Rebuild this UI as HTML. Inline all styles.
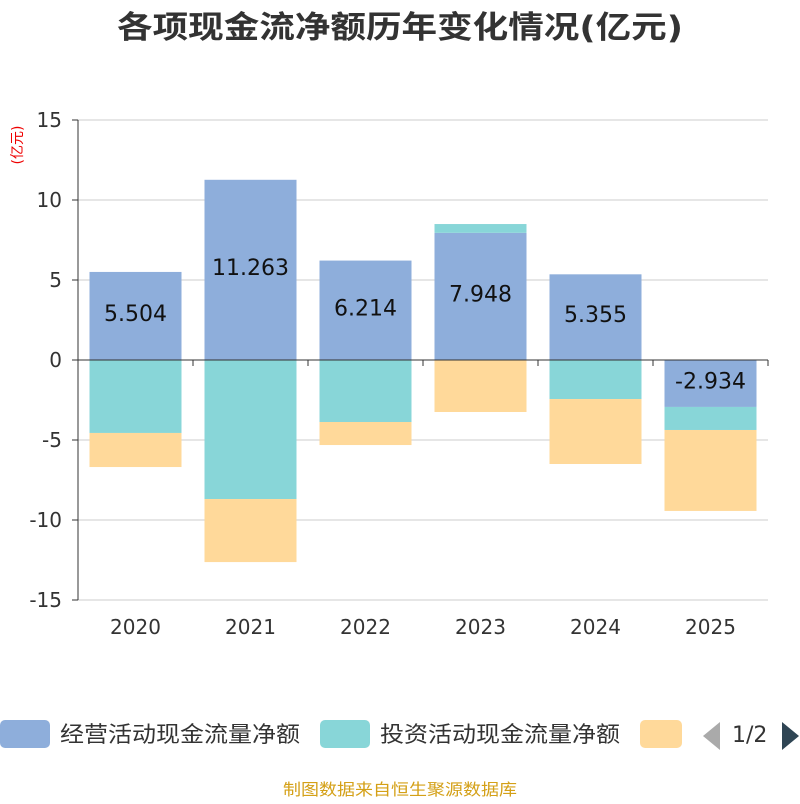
<!DOCTYPE html>
<html><head><meta charset="utf-8"><style>
body{margin:0;background:#fff;width:800px;height:800px;overflow:hidden;font-family:"DejaVu Sans","Noto Sans CJK SC",sans-serif}
</style></head><body>
<svg id="c" width="800" height="800" xmlns="http://www.w3.org/2000/svg" font-family="DejaVu Sans, Noto Sans CJK SC, sans-serif">
<text x="117" y="38" textLength="566" lengthAdjust="spacingAndGlyphs" font-size="31" font-weight="bold" fill="#333">各项现金流净额历年变化情况(亿元)</text>
<text transform="translate(22,145) rotate(-90)" text-anchor="middle" font-size="14" fill="#e00">(亿元)</text>
<g id="grid"></g><g id="bars"></g><g id="axes"></g>
<g font-size="22" fill="#333">
<rect x="0" y="720" width="50" height="28" rx="5" fill="#8eaedb"/>
<text x="60" y="742" textLength="240" lengthAdjust="spacingAndGlyphs">经营活动现金流量净额</text>
<rect x="320" y="720" width="50" height="28" rx="5" fill="#88d6d8"/>
<text x="380" y="742" textLength="240" lengthAdjust="spacingAndGlyphs">投资活动现金流量净额</text>
<rect x="640" y="720" width="42" height="28" rx="5" fill="#ffd99a"/>
<polygon points="720,722 720,750 703,736" fill="#aaa"/>
<text x="732" y="742">1/2</text>
<polygon points="782,722 782,750 799,736" fill="#2f4554"/>
</g>
<text x="283" y="795" textLength="234" lengthAdjust="spacingAndGlyphs" font-size="16" fill="#d4a017">制图数据来自恒生聚源数据库</text>
</svg>
<script>
const categories=["2020","2021","2022","2023","2024","2025"];
const operating=[5.504,11.263,6.214,7.948,5.355,-2.934];
const investing=[-4.56,-8.69,-3.875,0.55,-2.44,-1.44];
const financing=[-2.13,-3.94,-1.44,-3.25,-4.06,-5.06];
const yTicks=[15,10,5,0,-5,-10,-15];
const colors=["#8eaedb","#88d6d8","#ffd99a"];
const NS="http://www.w3.org/2000/svg";
const x0=78,x1=768,yTop=120,yBot=600;
const y=v=>yTop+(15-v)/30*(yBot-yTop);
const bw=(x1-x0)/categories.length;
const xc=i=>x0+bw*(i+0.5);
function mk(t,a,p){const e=document.createElementNS(NS,t);for(const k in a)e.setAttribute(k,a[k]);p.appendChild(e);return e;}
const grid=document.getElementById('grid'),bars=document.getElementById('bars'),axes=document.getElementById('axes');
yTicks.forEach(t=>{
 const l=mk('line',{x1:x0,x2:x1,y1:y(t),y2:y(t),stroke:'#ccc','stroke-width':1},grid);
 
 
 const tx=mk('text',{x:x0-16,y:y(t)+7,'text-anchor':'end','font-size':20,fill:'#333'},axes);
 tx.textContent=t;
 
 
 const tk=mk('line',{x1:x0-6,x2:x0,y1:y(t),y2:y(t),stroke:'#333'},axes);
 
 
});
const ya=mk('line',{x1:x0,x2:x0,y1:yTop,y2:yBot,stroke:'#333'},axes);


const xa=mk('line',{x1:x0,x2:x1,y1:y(0),y2:y(0),stroke:'#333'},axes);


const series=[operating,investing,financing];
const names=['operating','investing','financing'];
categories.forEach((c,i)=>{
 let pos=0,neg=0;
 const bx=xc(i)-46;
 series.forEach((s,k)=>{
  const v=s[i];let a,b;
  if(v>=0){a=pos;b=pos+v;pos=b;}else{a=neg;b=neg+v;neg=b;}
  const r=mk('rect',{x:bx,width:92,y:Math.min(y(a),y(b)),height:Math.abs(y(a)-y(b)),fill:colors[k]},bars);
  
  
 });
 const v=operating[i];
 const lt=mk('text',{x:xc(i),y:(y(0)+y(v))/2+5,'text-anchor':'middle','font-size':22,fill:'#111'},bars);
 lt.textContent=v.toFixed(3);
 
 
 const xt=mk('text',{x:xc(i),y:634,'text-anchor':'middle','font-size':20,fill:'#333'},axes);
 xt.textContent=c;
 
 
 const tk=mk('line',{x1:x0+bw*(i+1),x2:x0+bw*(i+1),y1:y(0),y2:y(0)+6,stroke:'#333'},axes);
 
 
});
</script>
</body></html>
